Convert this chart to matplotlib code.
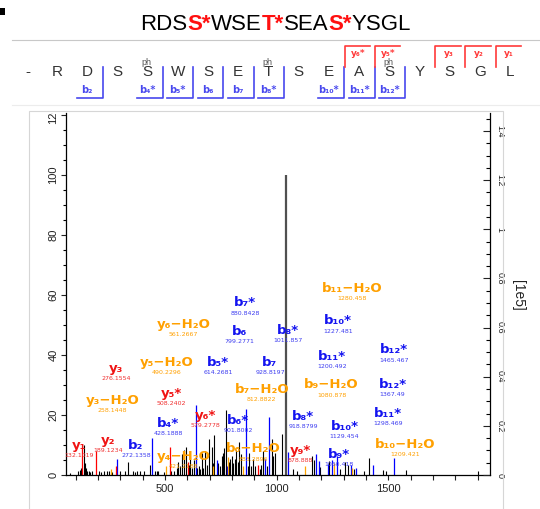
import matplotlib
matplotlib.use('Agg')
import matplotlib.pyplot as plt
from matplotlib.patches import Rectangle
from matplotlib.lines import Line2D
from matplotlib.transforms import Bbox, TransformedBbox
from matplotlib.ticker import FixedLocator, MultipleLocator

plt.rcParams['font.family'] = ['Liberation Sans', 'DejaVu Sans']

# ---------------- data ----------------
title_parts = ["RDS", "S*", "WSE", "T*", "SEA", "S*", "YSGL"]
title_mod = [False, True, False, True, False, True, False]

residues = list("RDSSWSETSEASYSGL")
phospho_pos = [4, 8, 12]
b_pos = [2, 4, 5, 6, 7, 8, 10, 11, 12]
b_names = ["b₂", "b₄*", "b₅*", "b₆", "b₇", "b₈*", "b₁₀*", "b₁₁*", "b₁₂*"]
y_pos = [11, 12, 14, 15, 16]
y_names = ["y₆*", "y₅*", "y₃", "y₂", "y₁"]

black_mz = [75, 110, 118, 124, 136, 141, 146, 150, 158, 165, 172, 203, 212, 225, 240, 250,
            262, 299, 321, 333, 358, 366, 373, 388, 404, 433, 455, 463, 470, 495, 528, 540,
            553, 560, 568, 575, 583, 593, 606, 612, 620, 628, 645, 650, 657, 664, 672, 679,
            687, 696, 709, 714, 721, 738, 746, 754, 759, 765, 772, 785, 791, 798, 805, 812,
            818, 826, 833, 840, 870, 875, 884, 896, 904, 925, 931, 940, 957, 978, 985, 992,
            1022, 1072, 1093, 1157, 1165, 1194, 1236, 1285, 1306, 1321, 1344, 1393, 1411,
            1476, 1491, 1578, 1900]
black_int = [0.8, 1.2, 1.8, 2.5, 10.0, 4.0, 2.5, 1.5, 1.2, 1.0, 1.5, 1.5, 1.0, 1.5, 1.5, 1.2,
             1.0, 1.5, 1.5, 4.5, 1.5, 1.0, 1.2, 1.5, 1.5, 3.5, 1.5, 1.5, 1.2, 1.0, 1.5, 1.5,
             2.5, 4.5, 3.0, 7.0, 8.3, 9.3, 3.5, 6.0, 2.5, 5.0, 2.5, 3.0, 2.0, 7.2, 2.5, 8.0,
             3.5, 12.0, 9.5, 4.0, 13.5, 4.0, 3.0, 6.5, 7.5, 9.0, 21.7, 4.5, 5.5, 6.5, 4.0, 5.5,
             8.3, 4.5, 11.0, 7.0, 3.0, 7.5, 3.0, 5.5, 3.0, 2.0, 3.5, 8.0, 3.0, 12.0, 6.5, 7.5,
             13.7, 2.0, 1.5, 6.4, 5.0, 2.6, 4.8, 2.0, 4.2, 3.5, 2.0, 1.5, 5.8,
             1.6, 1.3, 1.8, 1.2]
base_mz = [1042]
base_int = [100.0]
blue_mz = [284, 441, 637, 731, 779, 862, 948, 966, 1051, 1178, 1190, 1230, 1248, 1270,
           1334, 1354, 1430, 1525]
blue_int = [5.5, 12.5, 23.3, 5.0, 3.0, 22.0, 5.5, 19.2, 7.7, 7.0, 4.8, 3.7, 5.0, 6.5,
            3.3, 2.4, 3.3, 5.6]
red_mz = [128, 191, 281, 522, 601, 916]
red_int = [9.0, 8.0, 3.0, 9.3, 4.4, 3.3]
orange_mz = [258, 505, 717, 780, 851, 1126, 1256, 1335]
orange_int = [2.0, 3.0, 3.0, 6.0, 3.0, 3.0, 4.0, 2.3]

ion_names = ["b₇*", "y₆−H₂O", "b₆", "b₈*", "y₅−H₂O", "b₅*", "b₇", "y₃", "y₅*", "b₇−H₂O",
             "y₃−H₂O", "b₄*", "y₆*", "b₆*", "b₈*", "b₁₁−H₂O", "b₁₀*", "b₁₂*", "b₁₁*",
             "b₉−H₂O", "b₁₂*", "b₁₁*", "b₁₀*", "b₁₀−H₂O", "y₉*", "b₉*", "y₁", "y₂", "b₂",
             "y₄−H₂O", "b₆−H₂O"]
ion_mz_text = ["880.8428", "561.2667", "799.2771", "1011.857", "490.2296", "614.2681",
               "928.8197", "276.1554", "508.2402", "812.8822", "258.1448", "428.1888",
               "579.2778", "901.8002", "918.8799", "1280.458", "1227.481", "1465.467",
               "1200.492", "1080.878", "1367.49", "1298.469", "1129.454", "1209.421",
               "878.888", "1060.418", "132.1019", "189.1234", "272.1358", "421.2188",
               "883.2896"]
ion_type = ["b", "o", "b", "b", "o", "b", "b", "r", "r", "o", "o", "b", "r", "b", "b",
            "o", "b", "b", "b", "o", "b", "b", "b", "o", "r", "b", "r", "r", "b", "o", "o"]
ion_x = [858, 582, 833, 1052, 508, 739, 970, 281, 530, 933, 266, 515, 679, 828, 1119,
         1336, 1276, 1525, 1246, 1246, 1519, 1500, 1303, 1574, 1104, 1280, 116, 244, 370,
         582, 895]
ion_y = [57.4, 50.2, 48.0, 48.1, 37.4, 37.4, 37.4, 35.6, 27.2, 28.6, 24.8, 17.2, 20.0,
         18.3, 19.4, 62.2, 51.4, 41.7, 39.4, 30.0, 30.3, 20.6, 16.1, 10.3, 8.3, 7.0, 10.0,
         11.4, 9.8, 6.1, 8.7]

x_ticks_major = [500, 1000, 1500]
left_ticks = [0, 20, 40, 60, 80, 100, 120]
right_ticks = [0, 0.2, 0.4, 0.6, 0.8, 1.0, 1.2, 1.4]
right_labels = ["0", "0.2", "0.4", "0.6", "0.8", "1", "1.2", "1.4"]
scale_1e5_per_pct = 0.01221

# ---------------- figure ----------------
W, H = 540, 509
fig = plt.figure(figsize=(W / 100, H / 100), dpi=100)


def fx(px):
    return px / W


def fy(py):
    return 1 - py / H


# decorations / frames
fig.add_artist(Rectangle((0, fy(15)), fx(5), 7 / H, transform=fig.transFigure,
                         facecolor='black', edgecolor='none'))
fig.add_artist(Line2D([fx(12), 1], [fy(40), fy(40)], transform=fig.transFigure,
                      color='#c8c8c8', lw=0.8))
fig.add_artist(Line2D([fx(12), 1], [fy(105), fy(105)], transform=fig.transFigure,
                      color='#ececec', lw=0.8))
fig.add_artist(Rectangle((fx(28.5), fy(530)), fx(503 - 28.5), (530 - 110.5) / H,
                         transform=fig.transFigure, fill=False,
                         edgecolor='#d6d6d6', lw=0.8))

# title with coloured modified residues
prev = None
for part, mod in zip(title_parts, title_mod):
    kw = dict(fontsize=16, family='Liberation Sans', ha='left', va='bottom',
              color='#ff1010' if mod else 'black',
              fontweight='bold' if mod else 'normal')
    if prev is None:
        prev = fig.text(fx(140), fy(35.5), part, **kw)
    else:
        ann = matplotlib.text.Annotation(part, xy=(1, 0), xycoords=prev, **kw)
        fig.add_artist(ann)
        prev = ann

# sequence row
row_y = 72
x0, dx = 57, 30.2
fig.text(fx(28), fy(row_y), "-", fontsize=11, color='#333333', ha='center', va='center')
for i, r in enumerate(residues):
    xc = x0 + dx * i
    fig.text(fx(xc), fy(row_y), r, fontsize=11, color='#333333', ha='center', va='center',
             family='Liberation Sans')
for p in phospho_pos:
    xc = x0 + dx * (p - 1)
    fig.text(fx(xc - 1), fy(62.5), "ph", fontsize=6.5, color='#555555', ha='center',
             va='center', family='Liberation Sans')

bcol = '#4848ee'
for p, nm in zip(b_pos, b_names):
    xc = x0 + dx * (p - 1)
    xr = xc + 15.5
    fig.add_artist(Line2D([fx(xr), fx(xr), fx(xc - 10.5)], [fy(67), fy(97.5), fy(97.5)],
                          transform=fig.transFigure, color=bcol, lw=1.2))
    fig.text(fx(xc), fy(90), nm, fontsize=7, color=bcol, ha='center', va='center',
             fontweight='bold', family='DejaVu Sans')

rcol = '#ff3a3a'
for p, nm in zip(y_pos, y_names):
    xc = x0 + dx * (p - 1)
    xl = xc - 14.5
    fig.add_artist(Line2D([fx(xl), fx(xl), fx(xc + 11)], [fy(67), fy(46), fy(46)],
                          transform=fig.transFigure, color=rcol, lw=1.2))
    fig.text(fx(xc - 1), fy(53), nm, fontsize=6.5, color=rcol, ha='center', va='center',
             fontweight='bold', family='DejaVu Sans')

# ---------------- spectrum axes ----------------
ax = fig.add_axes([fx(66), fy(475), fx(490 - 66), (475 - 113) / H])
ymax = (475 - 113) / 3.0
ax.set_xlim((66 - 53.3) / 0.2234, (490 - 53.3) / 0.2234)
ax.set_ylim(0, ymax)

ax.vlines(black_mz, 0, black_int, colors='black', lw=0.8)
ax.vlines(blue_mz, 0, blue_int, colors='#0000ff', lw=0.9)
ax.vlines(red_mz, 0, red_int, colors='#ff0000', lw=0.9)
ax.vlines(orange_mz, 0, orange_int, colors='#ffa500', lw=0.9)
ax.vlines(base_mz, 0, base_int, colors='#505050', lw=1.6)

name_col = {'b': '#1414f0', 'r': '#f01414', 'o': '#ffa000'}
mz_col = {'b': '#3c3cf0', 'r': '#f03030', 'o': '#ffa000'}
for nm, mzt, t, xv, yv in zip(ion_names, ion_mz_text, ion_type, ion_x, ion_y):
    ax.text(xv, yv, nm, color=name_col[t], fontsize=9.5, fontweight='bold',
            family='DejaVu Sans', ha='center', va='center', zorder=5)
    ax.text(xv, yv - 3.4, mzt, color=mz_col[t], fontsize=4.5, family='DejaVu Sans',
            ha='center', va='center', zorder=5)

for s in ['top', 'right']:
    ax.spines[s].set_visible(False)
ax.spines['left'].set_linewidth(0.9)
ax.spines['bottom'].set_linewidth(0.9)

ax.xaxis.set_major_locator(FixedLocator(x_ticks_major))
ax.xaxis.set_minor_locator(MultipleLocator(100))
ax.tick_params(axis='x', which='both', direction='out', length=3.5, width=0.8,
               labelsize=8, pad=3, colors='#222222')
ax.set_yticks(left_ticks)
ax.yaxis.set_minor_locator(MultipleLocator(5))
ax.tick_params(axis='y', which='major', direction='out', length=3.5, width=0.8,
               labelsize=8, labelrotation=90, pad=2, colors='#222222')
ax.tick_params(axis='y', which='minor', direction='out', length=2.5, width=0.8)

ax2 = ax.twinx()
ax2.set_ylim(0, ymax * scale_1e5_per_pct)
for s in ['top', 'left', 'bottom']:
    ax2.spines[s].set_visible(False)
ax2.spines['right'].set_linewidth(0.9)
ax2.set_yticks(right_ticks)
ax2.set_yticklabels(right_labels)
ax2.yaxis.set_minor_locator(MultipleLocator(0.05))
ax2.tick_params(axis='y', which='major', direction='in', length=5, width=0.8,
                labelsize=6.5, labelrotation=-90, pad=4, colors='#222222')
ax2.tick_params(axis='y', which='minor', direction='in', length=3, width=0.8)

fig.text(fx(518), fy(295), "[1e5]", rotation=-90, fontsize=10, ha='center', va='center',
         family='Liberation Sans', color='#222222')

# clip the extreme tick labels at the frame edges, as in the original
fig.canvas.draw()
clip_top = TransformedBbox(Bbox.from_extents(0, 0, 1, fy(113)), fig.transFigure)
for tk in ax.yaxis.get_major_ticks():
    tk.label1.set_va('center')
    tk.label1.set_clip_box(clip_top)
    tk.label1.set_clip_on(True)
clip_bot = TransformedBbox(Bbox.from_extents(0, fy(478.5), 1, 1), fig.transFigure)
for tk in ax2.yaxis.get_major_ticks():
    tk.label2.set_va('center')
    tk.label2.set_clip_box(clip_bot)
    tk.label2.set_clip_on(True)

fig.savefig('out.png', dpi=100, facecolor='white')
